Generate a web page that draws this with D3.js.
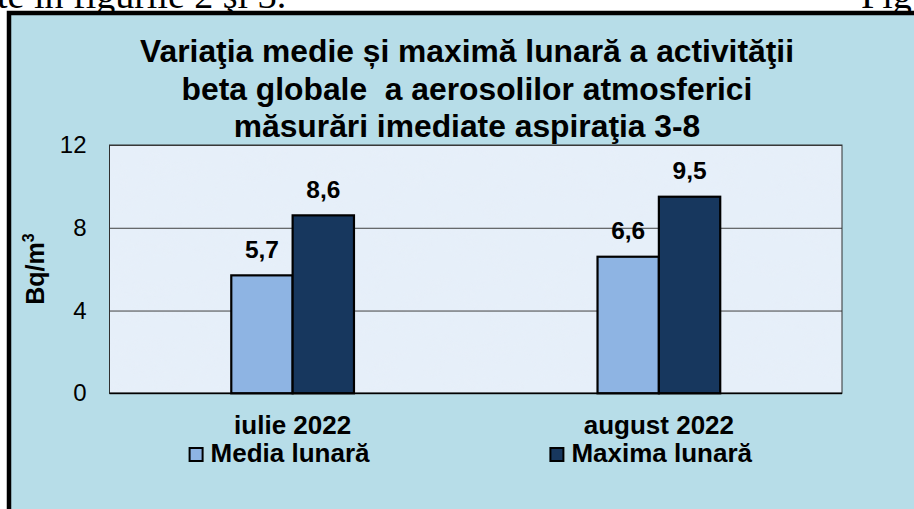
<!DOCTYPE html>
<html>
<head>
<meta charset="utf-8">
<script src="https://cdn.jsdelivr.net/npm/d3@7/dist/d3.min.js"></script>
<style>
  html, body { margin: 0; padding: 0; background: #ffffff; }
  svg { display: block; }
  .pre { white-space: pre; }
</style>
</head>
<body>
<svg id="chart" width="914" height="509"></svg>
<script>
// ---- data ----
const categories = ["iulie 2022", "august 2022"];
const seriesNames = ["Media lunară", "Maxima lunară"];
const mediaValues = [5.7, 6.6];
const maximaValues = [8.6, 9.5];
const yTicks = [0, 4, 8, 12];
const titleLines = [
  "Variaţia medie și maximă lunară a activităţii",
  "beta globale  a aerosolilor atmosferici",
  "măsurări imediate aspiraţia 3-8"
];
const yAxisTitle = "Bq/m";
const yAxisTitleSup = "3";
const docTextLeft = "te în figurile 2 şi 3.";
const docTextRight = "Fig";

// ---- styles ----
const seriesColors = ["#8EB4E3", "#17375E"];
const SANS = "'Liberation Sans', Arial, sans-serif";
const SERIF = "'Liberation Serif', 'Times New Roman', serif";

const W = 914, H = 509;
const svg = d3.select("#chart");

// document text above the frame (cropped by the picture's edge, as in the reference)
svg.append("text").attr("x", -3).attr("y", 8)
  .attr("font-family", SERIF).attr("font-size", 38).attr("fill", "#000")
  .text(docTextLeft);
svg.append("text").attr("x", 861).attr("y", 8)
  .attr("font-family", SERIF).attr("font-size", 38).attr("fill", "#000")
  .text(docTextRight);

// chart frame
svg.append("rect").attr("x", 9).attr("y", 13).attr("width", W + 20).attr("height", H + 20)
  .attr("fill", "#B7DDE8").attr("stroke", "#000").attr("stroke-width", 4.5);

// texture filter for plot area
const defs = svg.append("defs");
const f = defs.append("filter").attr("id", "tex").attr("x", 0).attr("y", 0).attr("width", 1).attr("height", 1);
f.append("feTurbulence").attr("type", "fractalNoise").attr("baseFrequency", "0.035 0.05")
  .attr("numOctaves", 4).attr("seed", 7).attr("result", "n");
f.append("feColorMatrix").attr("in", "n").attr("type", "matrix")
  .attr("values", "0 0 0 0 0.80  0 0 0 0 0.86  0 0 0 0 0.94  1.2 0 0 0 -0.45")
  .attr("result", "c");
f.append("feComposite").attr("in", "c").attr("in2", "SourceGraphic").attr("operator", "in");

// plot area
const plot = { left: 109.5, right: 842, top: 145, bottom: 393.3 };
const pw = plot.right - plot.left, ph = plot.bottom - plot.top;

const y = d3.scaleLinear().domain([0, 12]).range([plot.bottom, plot.top]);
const x0 = d3.scaleBand().domain(categories).range([plot.left, plot.right]).padding(0);
const groupW = x0.bandwidth() * 0.335;
const x1 = d3.scaleBand().domain(seriesNames).range([0, groupW]).padding(0);

svg.append("rect").attr("x", plot.left).attr("y", plot.top).attr("width", pw).attr("height", ph)
  .attr("fill", "#E6EFF9");
svg.append("rect").attr("x", plot.left).attr("y", plot.top).attr("width", pw).attr("height", ph)
  .attr("fill", "#fff").attr("filter", "url(#tex)").attr("opacity", 0.6);

// gridlines
const grid = svg.append("g").attr("transform", `translate(${plot.left},0)`)
  .call(d3.axisLeft(y).tickValues(yTicks).tickSize(-pw).tickFormat(""));
grid.select(".domain").remove();
grid.selectAll(".tick line").attr("stroke", "#404040").attr("stroke-width", 1);

// plot border
svg.append("rect").attr("x", plot.left).attr("y", plot.top).attr("width", pw).attr("height", ph)
  .attr("fill", "none").attr("stroke", "#303030").attr("stroke-width", 1);

// y axis labels
const yAx = svg.append("g").attr("transform", `translate(${plot.left},0)`)
  .call(d3.axisLeft(y).tickValues(yTicks).tickSize(0).tickPadding(23));
yAx.select(".domain").remove();
yAx.selectAll("text").attr("font-family", SANS).attr("font-size", 24).attr("fill", "#000");

// bars
const rows = categories.map((c, i) => ({ cat: c, vals: [mediaValues[i], maximaValues[i]] }));
const fmt = v => d3.format(".1f")(v).replace(".", ",");

const groups = svg.append("g").selectAll("g").data(rows).join("g")
  .attr("transform", d => `translate(${x0(d.cat) + (x0.bandwidth() - groupW) / 2},0)`);

groups.selectAll("rect").data(d => d.vals.map((v, j) => ({ s: seriesNames[j], v, j })))
  .join("rect")
  .attr("x", d => x1(d.s))
  .attr("y", d => y(d.v))
  .attr("width", x1.bandwidth())
  .attr("height", d => y(0) - y(d.v))
  .attr("fill", d => seriesColors[d.j])
  .attr("stroke", "#000").attr("stroke-width", 2.2);

groups.selectAll("text.lbl").data(d => d.vals.map((v, j) => ({ s: seriesNames[j], v, j })))
  .join("text").attr("class", "lbl")
  .attr("x", d => x1(d.s) + x1.bandwidth() / 2)
  .attr("y", d => y(d.v) - 17.5)
  .attr("text-anchor", "middle")
  .attr("font-family", SANS).attr("font-weight", "bold").attr("font-size", 24.5)
  .text(d => fmt(d.v));

// bottom axis line
svg.append("line").attr("x1", plot.left).attr("x2", plot.right)
  .attr("y1", plot.bottom).attr("y2", plot.bottom).attr("stroke", "#000").attr("stroke-width", 1.5);

// x axis labels
const xAx = svg.append("g").attr("transform", `translate(0,${plot.bottom})`)
  .call(d3.axisBottom(x0).tickSize(0).tickPadding(22));
xAx.select(".domain").remove();
xAx.selectAll("text").attr("font-family", SANS).attr("font-weight", "bold")
  .attr("font-size", 26).attr("fill", "#000");

// title
const titleBase = [62, 99.5, 137];
svg.append("g").selectAll("text").data(titleLines).join("text")
  .attr("class", "pre")
  .attr("x", 467).attr("y", (d, i) => titleBase[i])
  .attr("text-anchor", "middle")
  .attr("font-family", SANS).attr("font-weight", "bold").attr("font-size", 31.8)
  .text(d => d);

// y axis title
const yt = svg.append("text")
  .attr("transform", "translate(44,269) rotate(-90)")
  .attr("text-anchor", "middle")
  .attr("font-family", SANS).attr("font-weight", "bold").attr("font-size", 25);
yt.append("tspan").text(yAxisTitle);
yt.append("tspan").attr("font-size", 16).attr("dy", -10).text(yAxisTitleSup);

// legend
const legendX = [189.6, 550.4];
const leg = svg.append("g").selectAll("g").data(seriesNames).join("g")
  .attr("transform", (d, i) => `translate(${legendX[i]},448)`);
leg.append("rect").attr("width", 13).attr("height", 13)
  .attr("fill", (d, i) => seriesColors[i]).attr("stroke", "#000").attr("stroke-width", 2);
leg.append("text").attr("x", 21).attr("y", 13.7)
  .attr("font-family", SANS).attr("font-weight", "bold").attr("font-size", 26)
  .text(d => d);
</script>
</body>
</html>
